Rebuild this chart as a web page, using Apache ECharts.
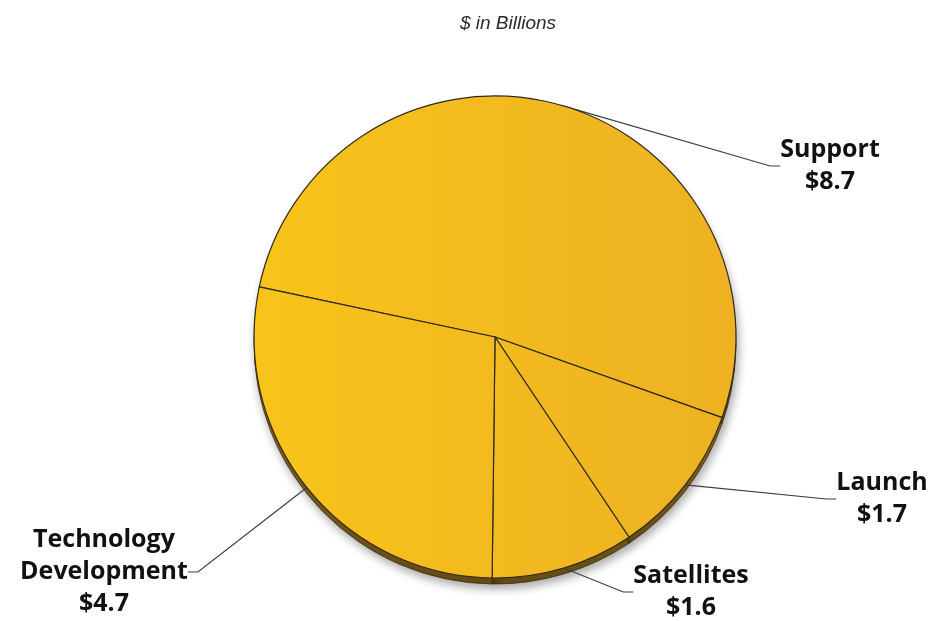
<!DOCTYPE html>
<html>
<head>
<meta charset="utf-8">
<script src="https://cdn.jsdelivr.net/npm/echarts@6/dist/echarts.min.js"></script>
<style>
  html, body { margin: 0; padding: 0; background: #fff; }
  #chart { width: 930px; height: 621px; }
</style>
</head>
<body>
<div id="chart"></div>
<script>
// Budget split, $ in billions
const categories = ['Support', 'Launch', 'Satellites', 'Technology\nDevelopment'];
const amounts = [8.7, 1.7, 1.6, 4.7];
const subtitle = '$ in Billions';

// where each label block sits (centre of the text block)
const labelSpots = [
  { x: 830, y: 166 },
  { x: 882, y: 499 },
  { x: 691, y: 592 },
  { x: 104, y: 572 }
];

const pieData = categories.map((name, i) => ({ name, value: amounts[i] }));

const CX = 495, CY = 337, R = 241;

const chart = echarts.init(document.getElementById('chart'), null, { renderer: 'canvas' });

chart.setOption({
  backgroundColor: '#ffffff',
  animation: false,
  title: {
    text: subtitle,
    left: 503,
    textAlign: 'center',
    top: 9,
    textStyle: {
      fontFamily: 'Liberation Sans, Arial, sans-serif',
      fontStyle: 'italic',
      fontWeight: 'normal',
      fontSize: 19,
      color: '#2b2b2b'
    }
  },
  series: [
    {
      // the darker base under the disc gives it some thickness
      name: 'base',
      type: 'pie',
      z: 1,
      silent: true,
      center: [CX, CY + 6],
      radius: R,
      startAngle: 168,
      clockwise: true,
      label: { show: false },
      labelLine: { show: false },
      itemStyle: {
        color: new echarts.graphic.LinearGradient(0, 0, 0, 1, [
          { offset: 0, color: '#9a7624' },
          { offset: 1, color: '#664c14' }
        ]),
        borderColor: '#3a2c0c',
        borderWidth: 0.8,
        shadowBlur: 10,
        shadowOffsetX: 2,
        shadowOffsetY: 4,
        shadowColor: 'rgba(0,0,0,0.35)'
      },
      data: pieData
    },
    {
      name: 'budget',
      type: 'pie',
      z: 2,
      center: [CX, CY],
      radius: R,
      startAngle: 168,
      clockwise: true,
      avoidLabelOverlap: false,
      itemStyle: {
        color: new echarts.graphic.LinearGradient(CX - R, 0, CX + R, 0, [
          { offset: 0, color: '#f8c41a' },
          { offset: 1, color: '#edb123' }
        ], true),
        borderColor: '#2f2a20',
        borderWidth: 1.2
      },
      label: {
        show: true,
        position: 'outside',
        formatter: p => p.name + '\n$' + p.value.toFixed(1),
        fontFamily: 'Open Sans, sans-serif',
        fontWeight: 'bold',
        fontSize: 25,
        lineHeight: 32,
        color: '#111111',
        align: 'center'
      },
      labelLine: {
        show: true,
        length: 20,
        length2: 10,
        lineStyle: { color: '#3c3c3c', width: 1.2 }
      },
      labelLayout: function (params) {
        const s = labelSpots[params.dataIndex];
        return { x: s.x, y: s.y, align: 'center', verticalAlign: 'middle' };
      },
      data: pieData
    }
  ]
});
</script>
</body>
</html>
